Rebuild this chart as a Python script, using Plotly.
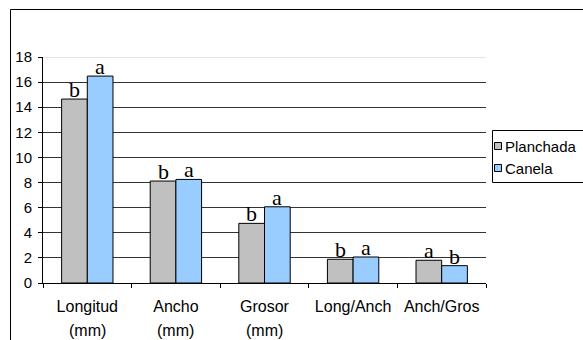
import plotly.graph_objects as go

# Data
categories = ["Longitud", "Ancho", "Grosor", "Long/Anch", "Anch/Gros"]
units = ["(mm)", "(mm)", "(mm)", "", ""]
series_names = ["Planchada", "Canela"]
planchada = [14.65, 8.12, 4.75, 1.89, 1.81]
canela = [16.48, 8.25, 6.07, 2.07, 1.38]
planchada_letters = ["b", "b", "b", "b", "a"]
canela_letters = ["a", "a", "a", "a", "b"]
y_ticks = [0, 2, 4, 6, 8, 10, 12, 14, 16, 18]

colors = ["#C0C0C0", "#99CCFF"]
W, H = 583, 340
ML, MR, MT, MB = 43, 97, 57, 57
PW, PH = W - ML - MR, H - MT - MB
BARGAP = 0.42
TICK_FONT = dict(family="Liberation Sans", size=15, color="black")
CAT_FONT = dict(family="Liberation Sans", size=16, color="black")


def px_x(px):
    return (px - ML) / PW


def px_y(py):
    return (H - MB - py) / PH


fig = go.Figure()
for name, vals, col in zip(series_names, [planchada, canela], colors):
    fig.add_trace(go.Bar(
        x=categories, y=vals, name=name, marker_color=col,
        marker_line_color="black", marker_line_width=1, showlegend=False,
    ))

# significance letters above each bar
bar_w = PW / len(categories) * (1 - BARGAP) / 2
annotations = []
for vals, letters, shift in [(planchada, planchada_letters, -bar_w / 2),
                             (canela, canela_letters, bar_w / 2)]:
    for c, v, t in zip(categories, vals, letters):
        annotations.append(dict(
            x=c, y=v, text=t, xref="x", yref="y", showarrow=False,
            xanchor="center", yanchor="bottom", xshift=shift, yshift=-5,
            font=dict(family="Liberation Serif", size=22, color="black"),
        ))

# second line of the category labels
for c, u in zip(categories, units):
    if u:
        annotations.append(dict(
            x=c, y=px_y(330), text=u, xref="x", yref="paper", showarrow=False,
            xanchor="center", yanchor="middle", font=CAT_FONT,
        ))

shapes = [
    # outer chart frame
    dict(type="rect", xref="paper", yref="paper",
         x0=px_x(10.5), x1=px_x(W + 20), y0=px_y(H + 20), y1=px_y(9.5),
         line=dict(color="black", width=1), layer="below"),
    # light top gridline
    dict(type="line", xref="paper", yref="y", x0=0, x1=1, y0=18, y1=18,
         line=dict(color="#C8C8C8", width=1)),
    # legend box
    dict(type="rect", xref="paper", yref="paper",
         x0=px_x(492.5), x1=px_x(W + 20), y0=px_y(182.5), y1=px_y(130.5),
         line=dict(color="black", width=1), fillcolor="white"),
]

# legend entries
for i, (name, col) in enumerate(zip(series_names, colors)):
    cy = 146 + 22 * i
    shapes.append(dict(type="rect", xref="paper", yref="paper",
                       x0=px_x(494.5), x1=px_x(501.5), y0=px_y(cy + 3.5), y1=px_y(cy - 3.5),
                       line=dict(color="black", width=1), fillcolor=col))
    annotations.append(dict(
        x=px_x(503), y=px_y(cy), text=name, xref="paper", yref="paper",
        showarrow=False, xanchor="left", yanchor="middle",
        font=dict(family="Liberation Sans", size=15, color="black"),
    ))

fig.update_layout(
    width=W, height=H,
    margin=dict(l=ML, r=MR, t=MT, b=MB, pad=0),
    paper_bgcolor="white", plot_bgcolor="white",
    barmode="group", bargap=BARGAP, bargroupgap=0,
    font=TICK_FONT,
    annotations=annotations, shapes=shapes, showlegend=False,
)
fig.update_xaxes(
    type="category", showline=True, linecolor="black", linewidth=1,
    ticks="outside", tickson="boundaries", ticklen=4, tickcolor="black",
    showgrid=False, zeroline=False, ticklabelstandoff=9,
    tickfont=CAT_FONT,
)
fig.update_yaxes(
    range=[0, 18], tickvals=y_ticks, showline=True, linecolor="black", linewidth=1,
    ticks="outside", ticklen=4, tickcolor="black", showgrid=True,
    gridcolor="#333333", gridwidth=1, zeroline=False, ticklabelstandoff=3,
    tickfont=TICK_FONT,
)

fig.write_html("out.html")
